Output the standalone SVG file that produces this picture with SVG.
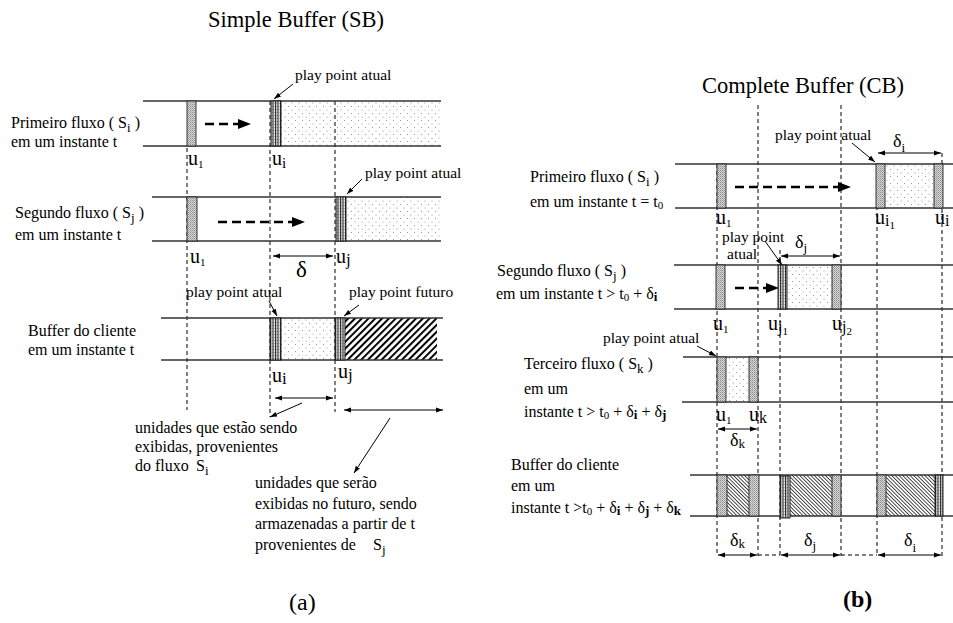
<svg xmlns="http://www.w3.org/2000/svg" width="953" height="623" viewBox="0 0 953 623">
<style>
text{font-family:"Liberation Serif","Times New Roman",serif;fill:#000}
.t{font-size:16px}
.pp{font-size:15.5px}
.ttl{font-size:22.5px}
.u{font-size:20px}
.rl{stroke:#333;stroke-width:1.3;fill:none}
.dv{stroke:#000;stroke-width:1;stroke-dasharray:4,3;fill:none}
.ar{stroke:#000;stroke-width:1;fill:none;marker-end:url(#ah)}
.da{stroke:#000;stroke-width:1;fill:none;marker-end:url(#ah);marker-start:url(#ah)}
.big{stroke:#000;stroke-width:2.6;stroke-dasharray:9,5;fill:none}
.gb{fill:url(#gray);stroke:#222;stroke-width:0.9}
.sb{fill:url(#vstripe);stroke:#111;stroke-width:0.9}
.dt{fill:url(#dots);stroke:none}
.ha{fill:url(#hatchA);stroke:none}
.hb{fill:url(#hatchB);stroke:none}
</style>
<defs>
<marker id="ah" viewBox="0 0 10 10" refX="10" refY="5" markerWidth="7" markerHeight="7" markerUnits="userSpaceOnUse" orient="auto-start-reverse"><path d="M0,1.5 L10,5 L0,8.5 z" fill="#000"/></marker>
<pattern id="dots" width="7" height="7" patternUnits="userSpaceOnUse"><circle cx="1.5" cy="1.5" r="0.5" fill="#777"/><circle cx="5" cy="5" r="0.5" fill="#777"/></pattern>
<pattern id="gray" width="2" height="2" patternUnits="userSpaceOnUse"><rect width="2" height="2" fill="#d8d8d8"/><rect width="1" height="1" fill="#8a8a8a"/><rect x="1" y="1" width="1" height="1" fill="#a8a8a8"/></pattern>
<pattern id="vstripe" width="2.5" height="3" patternUnits="userSpaceOnUse"><rect width="2.5" height="3" fill="#eee"/><rect width="1.1" height="3" fill="#222"/><rect x="1.6" y="1" width="0.6" height="0.6" fill="#555"/></pattern>
<pattern id="hatchA" width="4.8" height="8" patternUnits="userSpaceOnUse" patternTransform="rotate(45)"><rect width="2" height="8" fill="#000"/></pattern>
<pattern id="hatchB" width="2.6" height="8" patternUnits="userSpaceOnUse" patternTransform="rotate(-45)"><rect width="0.8" height="8" fill="#222"/></pattern>
</defs>
<rect width="953" height="623" fill="#fff"/>

<!-- ===== (a) Simple Buffer ===== -->
<text class="ttl" x="296" y="27" text-anchor="middle">Simple Buffer (SB)</text>

<g id="a-guides">
<line class="dv" x1="187" y1="148" x2="187" y2="410"/>
<line class="dv" x1="270" y1="101" x2="270" y2="417"/>
<line class="dv" x1="335" y1="101" x2="335" y2="412"/>
</g>

<g id="a-row1">
<text class="t" x="11" y="128">Primeiro fluxo ( S<tspan font-size="13" dy="4">i</tspan><tspan dy="-4"> )</tspan></text>
<text class="t" x="11" y="147">em um instante t</text>
<rect class="dt" x="281" y="101" width="160" height="45"/>
<line class="rl" x1="143" y1="101" x2="441" y2="101"/>
<line class="rl" x1="143" y1="146" x2="441" y2="146"/>
<rect class="gb" x="187" y="101" width="9" height="45"/>
<rect class="sb" x="271" y="101" width="10" height="45"/>
<text class="u" x="188" y="165">u<tspan font-size="11" dy="3">1</tspan></text>
<text class="u" x="272" y="165">u<tspan font-size="15" dy="3">i</tspan></text>
<text class="pp" x="295" y="80">play point atual</text>
</g>

<g id="a-row2">
<text class="t" x="15" y="218">Segundo fluxo ( S<tspan font-size="13" dy="4">j</tspan><tspan dy="-4"> )</tspan></text>
<text class="t" x="15" y="240">em um instante t</text>
<rect class="dt" x="346" y="197" width="95" height="44"/>
<line class="rl" x1="152" y1="197" x2="441" y2="197"/>
<line class="rl" x1="152" y1="241" x2="441" y2="241"/>
<rect class="gb" x="187" y="197" width="10" height="44"/>
<rect class="sb" x="336" y="197" width="10" height="44"/>
<text class="u" x="190" y="263">u<tspan font-size="11" dy="3">1</tspan></text>
<text class="u" x="336" y="263">u<tspan font-size="17" dy="2">j</tspan></text>
<text x="296" y="277" font-size="23">δ</text>
<text class="pp" x="365" y="178">play point atual</text>
</g>

<g id="a-row3">
<text class="t" x="28" y="336">Buffer do cliente</text>
<text class="t" x="28" y="355">em um instante t</text>
<rect class="dt" x="281" y="318" width="54" height="42"/>
<rect class="ha" x="345" y="318" width="92" height="42"/>
<line class="rl" x1="161" y1="318" x2="443" y2="318"/>
<line class="rl" x1="161" y1="360" x2="443" y2="360"/>
<rect class="sb" x="270" y="318" width="11" height="42"/>
<rect class="sb" x="335" y="318" width="10" height="42"/>
<text class="u" x="272" y="382">u<tspan font-size="17" dy="2">i</tspan></text>
<text class="u" x="338" y="378">u<tspan font-size="17" dy="2">j</tspan></text>
<text class="pp" x="186" y="297">play point atual</text>
<text class="pp" x="349" y="297">play point futuro</text>
</g>

<g id="a-notes">
<text class="t" x="135" y="433">unidades que estão sendo</text>
<text class="t" x="135" y="452">exibidas, provenientes</text>
<text class="t" x="135" y="471">do fluxo <tspan x="196">S</tspan><tspan font-size="13" dy="4">i</tspan></text>
<text class="t" x="255" y="488">unidades que serão</text>
<text class="t" x="255" y="509">exibidas no futuro, sendo</text>
<text class="t" x="255" y="529">armazenadas a partir de t</text>
<text class="t" x="255" y="550">provenientes de <tspan x="373">S</tspan><tspan font-size="13" dy="4">j</tspan></text>
<text x="289" y="610" font-size="24">(a)</text>
</g>

<!-- ===== (b) Complete Buffer ===== -->
<text class="ttl" x="702" y="93">Complete Buffer (CB)</text>

<g id="b-guides">
<line class="dv" x1="717" y1="164" x2="717" y2="556"/>
<line class="dv" x1="758" y1="105" x2="758" y2="556"/>
<line class="dv" x1="780" y1="250" x2="780" y2="556"/>
<line class="dv" x1="841" y1="105" x2="841" y2="556"/>
<line class="dv" x1="877" y1="164" x2="877" y2="556"/>
<line class="dv" x1="942" y1="153" x2="942" y2="556"/>
<line class="dv" x1="758" y1="555" x2="780" y2="555"/>
<line class="dv" x1="841" y1="555" x2="877" y2="555"/>
</g>

<g id="b-row1">
<text class="t" x="530" y="182">Primeiro fluxo ( S<tspan font-size="13" dy="4">i</tspan><tspan dy="-4"> )</tspan></text>
<text class="t" x="530" y="207">em um instante t = t<tspan font-size="11" dy="2">0</tspan></text>
<rect class="dt" x="885" y="164" width="49" height="44"/>
<line class="rl" x1="675" y1="164" x2="953" y2="164"/>
<line class="rl" x1="675" y1="208" x2="953" y2="208"/>
<rect class="gb" x="717" y="164" width="9" height="44"/>
<rect class="gb" x="876" y="164" width="9" height="44"/>
<rect class="gb" x="934" y="164" width="9" height="44"/>
<text class="u" x="716" y="224">u<tspan font-size="11" dy="3">1</tspan></text>
<text class="u" x="875" y="224">u<tspan font-size="16" dy="2">i</tspan><tspan font-size="11" dy="3">1</tspan></text>
<text class="u" x="935" y="224">u<tspan font-size="16" dy="2">i</tspan></text>
<text class="pp" x="775" y="140">play point atual</text>
<text x="893" y="147" font-size="18">δ<tspan font-size="13" dy="5">i</tspan></text>
</g>

<g id="b-row2">
<text class="t" x="497" y="276">Segundo fluxo ( S<tspan font-size="13" dy="4">j</tspan><tspan dy="-4"> )</tspan></text>
<text class="t" x="496" y="299">em um instante t &gt; t<tspan font-size="11" dy="2">0</tspan><tspan dy="-2"> + δ</tspan><tspan font-size="13" dy="2" font-weight="bold">i</tspan></text>
<rect class="dt" x="787" y="265" width="45" height="44"/>
<line class="rl" x1="674" y1="265" x2="953" y2="265"/>
<line class="rl" x1="674" y1="309" x2="953" y2="309"/>
<rect class="gb" x="716" y="265" width="9" height="44"/>
<rect class="sb" x="778" y="265" width="9" height="44"/>
<rect class="gb" x="832" y="265" width="9" height="44"/>
<text class="u" x="713" y="330">u<tspan font-size="11" dy="3">1</tspan></text>
<text class="u" x="768" y="330">u<tspan font-size="16" dy="2">j</tspan><tspan font-size="11" dy="3">1</tspan></text>
<text class="u" x="832" y="330">u<tspan font-size="16" dy="2">j</tspan><tspan font-size="11" dy="3">2</tspan></text>
<text class="pp" x="722" y="242">play point</text>
<text class="pp" x="727" y="259">atual</text>
<text x="795" y="248" font-size="18">δ<tspan font-size="13" dy="4">j</tspan></text>
</g>

<g id="b-row3">
<text class="t" x="524" y="369">Terceiro fluxo ( S<tspan font-size="13" dy="4">k</tspan><tspan dy="-4"> )</tspan></text>
<text class="t" x="524" y="394">em um</text>
<text class="t" x="524" y="417">instante t &gt; t<tspan font-size="11" dy="2">0</tspan><tspan dy="-2"> + δ</tspan><tspan font-size="13" dy="2" font-weight="bold">i</tspan><tspan dy="-2"> + δ</tspan><tspan font-size="13" dy="2" font-weight="bold">j</tspan></text>
<rect class="dt" x="726" y="357" width="23" height="45"/>
<line class="rl" x1="683" y1="357" x2="953" y2="357"/>
<line class="rl" x1="682" y1="402" x2="953" y2="402"/>
<rect class="gb" x="717" y="357" width="9" height="45"/>
<rect class="gb" x="749" y="357" width="9" height="45"/>
<text class="u" x="716" y="421">u<tspan font-size="11" dy="3">1</tspan></text>
<text class="u" x="749" y="421">u<tspan font-size="16" dy="2">k</tspan></text>
<text x="730" y="446" font-size="18">δ<tspan font-size="13" dy="2">k</tspan></text>
<text class="pp" x="603" y="343">play point atual</text>
</g>

<g id="b-row4">
<text class="t" x="511" y="470">Buffer do cliente</text>
<text class="t" x="511" y="491">em um</text>
<text class="t" x="511" y="513">instante t  &gt;t<tspan font-size="11" dy="2">0</tspan><tspan dy="-2"> + δ</tspan><tspan font-size="13" dy="2" font-weight="bold">i</tspan><tspan dy="-2"> + δ</tspan><tspan font-size="13" dy="2" font-weight="bold">j</tspan><tspan dy="-2"> + δ</tspan><tspan font-size="13" dy="2" font-weight="bold">k</tspan></text>
<rect class="hb" x="727" y="475" width="22" height="41"/>
<rect class="hb" x="790" y="475" width="42" height="41"/>
<rect class="hb" x="886" y="475" width="49" height="41"/>
<line class="rl" x1="690" y1="475" x2="953" y2="475"/>
<line class="rl" x1="690" y1="516" x2="953" y2="516"/>
<rect class="gb" x="717" y="475" width="10" height="41"/>
<rect class="gb" x="749" y="475" width="10" height="41"/>
<rect class="sb" x="780" y="476" width="10" height="42"/>
<rect class="gb" x="832" y="475" width="9" height="41"/>
<rect class="gb" x="877" y="475" width="9" height="41"/>
<rect class="sb" x="935" y="475" width="8" height="41"/>
<text x="730" y="546" font-size="18">δ<tspan font-size="13" dy="2">k</tspan></text>
<text x="804" y="546" font-size="18">δ<tspan font-size="13" dy="4">j</tspan></text>
<text x="904" y="546" font-size="18">δ<tspan font-size="13" dy="6">i</tspan></text>
<text x="843" y="607" font-size="24" font-weight="bold">(b)</text>
</g>

<g id="connectors">
<!-- (a) -->
<line class="big" x1="205" y1="124" x2="239" y2="124"/>
<polygon points="238,119 251,124 238,129" fill="#000"/>
<line class="big" x1="218" y1="222" x2="293" y2="222"/>
<polygon points="292,217 305,222 292,227" fill="#000"/>
<line class="ar" x1="293" y1="84" x2="274" y2="99"/>
<line class="ar" x1="362" y1="179" x2="347" y2="194"/>
<line class="da" x1="273" y1="256" x2="333" y2="256"/>
<line class="ar" x1="269" y1="301" x2="277" y2="316"/>
<line class="ar" x1="359" y1="305" x2="344" y2="316"/>
<line class="da" x1="275" y1="398" x2="333" y2="398"/>
<line class="da" x1="344" y1="410" x2="443" y2="410"/>
<line class="ar" x1="302" y1="403" x2="270" y2="417"/>
<line class="ar" x1="390" y1="418" x2="354" y2="473"/>
<!-- (b) -->
<line class="big" x1="735" y1="187" x2="839" y2="187"/>
<polygon points="838,182 851,187 838,192" fill="#000"/>
<line class="big" x1="735" y1="288" x2="767" y2="288"/>
<polygon points="766,283 779,288 766,293" fill="#000"/>
<line class="ar" x1="852" y1="143" x2="875" y2="162"/>
<line class="da" x1="878" y1="153" x2="941" y2="153"/>
<line class="ar" x1="765" y1="241" x2="782" y2="265"/>
<line class="da" x1="781" y1="256" x2="840" y2="256"/>
<line class="ar" x1="697" y1="346" x2="716" y2="356"/>
<line class="da" x1="718" y1="429" x2="757" y2="429"/>
<line class="da" x1="718" y1="555" x2="757" y2="555"/>
<line class="da" x1="781" y1="555" x2="840" y2="555"/>
<line class="da" x1="878" y1="555" x2="941" y2="555"/>
</g>
</svg>
